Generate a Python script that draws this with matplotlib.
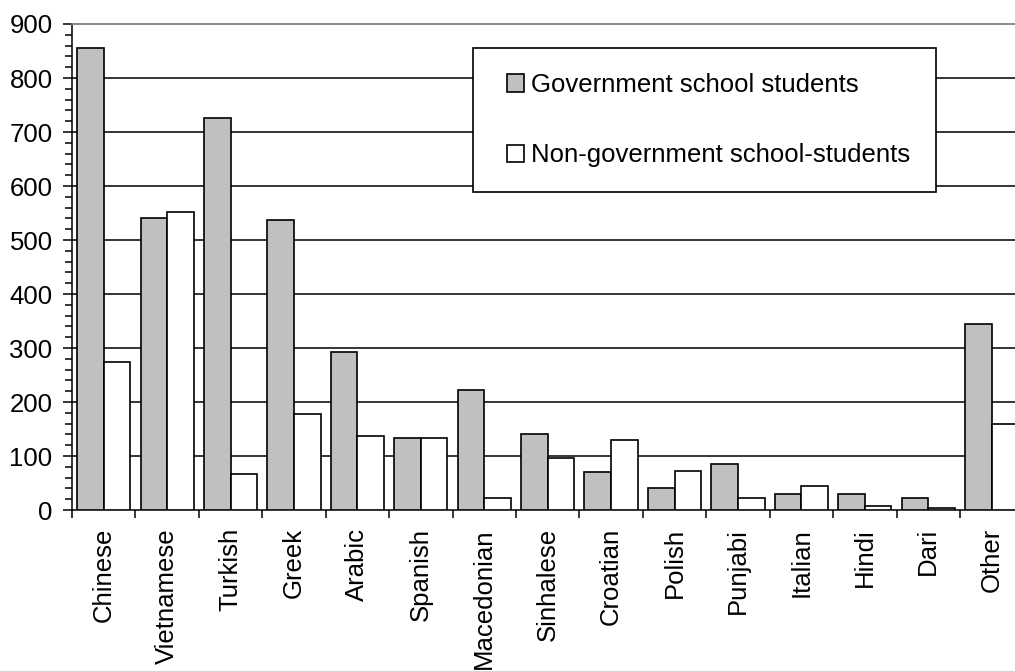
import matplotlib
matplotlib.use("Agg")
import matplotlib.pyplot as plt
import numpy as np
from matplotlib.ticker import MultipleLocator
from matplotlib.patches import Rectangle

plt.rcParams['font.family'] = ['Liberation Sans', 'DejaVu Sans']

categories = ["Chinese", "Vietnamese", "Turkish", "Greek", "Arabic", "Spanish",
              "Macedonian", "Sinhalese", "Croatian", "Polish", "Punjabi",
              "Italian", "Hindi", "Dari", "Other"]
government = [856, 541, 726, 537, 293, 133, 222, 141, 71, 41, 86, 30, 30, 23, 345]
non_government = [275, 552, 67, 178, 137, 133, 23, 96, 130, 72, 23, 45, 7, 4, 160]
yticks = [0, 100, 200, 300, 400, 500, 600, 700, 800, 900]
series_labels = ["Government school students", "Non-government school-students"]

FS = 18.5
W, H = 1015, 671
fig = plt.figure(figsize=(W / 100, H / 100), dpi=100)
ax_left, ax_right, ax_top, ax_bottom = 72, 1023.4, 24, 510
ax = fig.add_axes([ax_left / W, 1 - ax_bottom / H, (ax_right - ax_left) / W, (ax_bottom - ax_top) / H])

def ax_x(px):
    return (px - ax_left) / (ax_right - ax_left)

def ax_y(py):
    return (ax_bottom - py) / (ax_bottom - ax_top)

x = np.arange(len(categories))
bw = 0.42
ax.bar(x - bw / 2, government, width=bw, color='#C0C0C0', edgecolor='black', linewidth=1.2,
       label=series_labels[0], zorder=3)
ax.bar(x + bw / 2, non_government, width=bw, color='white', edgecolor='black', linewidth=1.2,
       label=series_labels[1], zorder=3)

ax.set_xlim(-0.5, len(categories) - 0.5)
ax.set_ylim(0, 900)

for v in yticks[1:-1]:
    ax.axhline(v, color='black', linewidth=1.1, zorder=1)

ax.set_yticks(yticks)
ax.yaxis.set_minor_locator(MultipleLocator(20))
ax.tick_params(axis='y', which='major', direction='out', length=6.5, width=1.1, pad=7.5, labelsize=FS)
ax.tick_params(axis='y', which='minor', direction='out', length=5, width=1.1)

ax.set_xticks(np.arange(len(categories) + 1) - 0.5)
ax.set_xticklabels([])
ax.set_xticks(x, minor=True)
ax.set_xticklabels(categories, minor=True, rotation=90, fontsize=FS, ha='center', va='top')
ax.tick_params(axis='x', which='major', direction='out', length=6, width=1.1)
ax.tick_params(axis='x', which='minor', length=0, pad=13)

ax.spines['right'].set_visible(False)
ax.spines['top'].set_color('#808080')
ax.spines['top'].set_linewidth(1.3)
ax.spines['left'].set_linewidth(1.1)
ax.spines['bottom'].set_linewidth(1.1)

# legend frame
frame = Rectangle((ax_x(473), ax_y(192)), ax_x(936) - ax_x(473), ax_y(48) - ax_y(192),
                  transform=ax.transAxes, facecolor='white', edgecolor='black',
                  linewidth=1.2, zorder=4)
ax.add_patch(frame)

leg = ax.legend(loc='upper left', bbox_to_anchor=(ax_x(507), ax_y(73)),
                borderaxespad=0, borderpad=0, fontsize=FS, frameon=False,
                handlelength=0.66, handleheight=0.66, handletextpad=0.27, labelspacing=1.8)
leg.set_zorder(5)

fig.savefig("out.png", dpi=100)
